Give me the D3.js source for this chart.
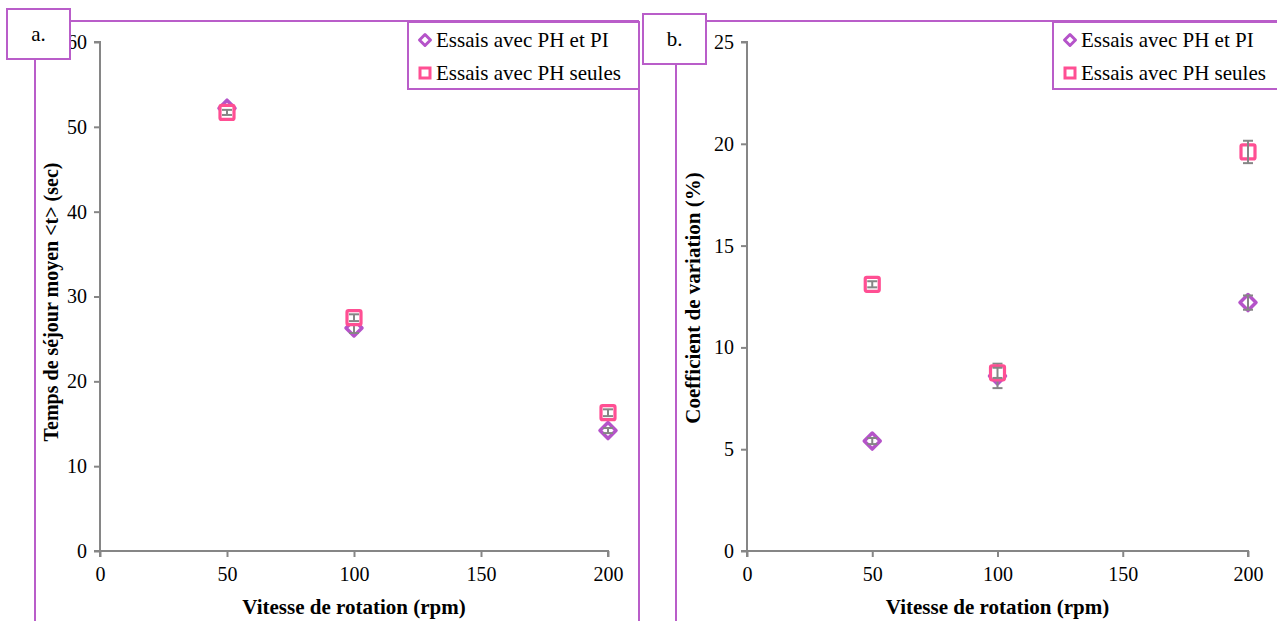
<!DOCTYPE html>
<html><head><meta charset="utf-8">
<script src="https://cdn.jsdelivr.net/npm/d3@7"></script>
<style>body{margin:0;background:#fff;} svg text{font-family:"Liberation Serif","Times New Roman","DejaVu Serif",serif !important;}</style>
</head><body>
<svg id="c" width="1277" height="621"></svg>
<script>
const speeds = [50, 100, 200];
const xTicks = [0, 50, 100, 150, 200];
// Panel a: mean residence time (sec)
const tA_PHPI = [52.2, 26.3, 14.2];
const tA_PHPI_err = [0.3, 0.6, 0.3];
const tA_PH = [51.7, 27.5, 16.3];
const tA_PH_err = [0.3, 0.4, 0.4];
const yTicksA = [0, 10, 20, 30, 40, 50, 60];
// Panel b: coefficient of variation (%)
const cvB_PHPI = [5.4, 8.6, 12.2];
const cvB_PHPI_err = [0.15, 0.6, 0.35];
const cvB_PH = [13.1, 8.75, 19.6];
const cvB_PH_err = [0.15, 0.25, 0.55];
const yTicksB = [0, 5, 10, 15, 20, 25];
const seriesNames = ["Essais avec PH et PI", "Essais avec PH seules"];
const labels = ["a.", "b."];
const yTitles = ["Temps de séjour moyen <t> (sec)", "Coefficient de variation (%)"];
const xTitle = "Vitesse de rotation (rpm)";

const PURPLE = "#B553C9", PINK = "#FF4F93", FRAME = "#B95DC9", AXIS = "#868686";
const FONT = "'Liberation Serif','Times New Roman','DejaVu Serif',serif";
const svg = d3.select("#c");

function panel(cfg) {
  const g = svg.append("g");
  // frame
  g.append("line").attr("x1", cfg.box.x1).attr("x2", cfg.frameRight).attr("y1", 21).attr("y2", 21).attr("stroke", FRAME).attr("stroke-width", 2);
  g.append("line").attr("x1", cfg.frameLeft).attr("x2", cfg.frameLeft).attr("y1", cfg.box.y1).attr("y2", 621).attr("stroke", FRAME).attr("stroke-width", 2);
  if (cfg.drawRight) g.append("line").attr("x1", cfg.frameRight).attr("x2", cfg.frameRight).attr("y1", 21).attr("y2", 621).attr("stroke", FRAME).attr("stroke-width", 2);

  const x = d3.scaleLinear().domain([0, 200]).range([cfg.x0, cfg.x1]);
  const y = d3.scaleLinear().domain([0, cfg.yMax]).range([551, 42]);

  const ya = g.append("g").attr("transform", `translate(${cfg.x0},0)`)
    .call(d3.axisLeft(y).tickValues(cfg.yTicks).tickSize(6).tickPadding(7).tickFormat(d3.format("d")));
  const xa = g.append("g").attr("transform", `translate(0,551)`)
    .call(d3.axisBottom(x).tickValues(xTicks).tickSize(6).tickPadding(10).tickFormat(d3.format("d")));
  [ya, xa].forEach(a => {
    a.attr("font-family", null).attr("font-size", null);
    a.select(".domain").attr("stroke", AXIS).attr("stroke-width", 2);
    a.selectAll(".tick line").attr("stroke", AXIS).attr("stroke-width", 2);
    a.selectAll("text").attr("fill", "#000").style("font-size", "20px").style("font-family", FONT);
  });
  ya.select(".domain").attr("d", `M-6,42H0V551H-6`);
  xa.select(".domain").attr("d", `M${cfg.x0},6V0H${cfg.x1}V6`);

  // titles
  g.append("text").attr("x", (cfg.x0 + cfg.x1) / 2).attr("y", 614).attr("text-anchor", "middle")
    .style("font-weight", "bold").style("font-size", "21px").style("font-family", FONT).text(xTitle);
  g.append("text").attr("transform", `translate(${cfg.yTitleX},${cfg.yTitleY}) rotate(-90)`).attr("text-anchor", "middle")
    .style("font-weight", "bold").style("font-size", cfg.yTitleSize).style("font-family", FONT).text(cfg.yTitle);

  // series
  const series = [
    {v: cfg.s1, e: cfg.e1, shape: "diamond", color: PURPLE},
    {v: cfg.s2, e: cfg.e2, shape: "square", color: PINK}
  ];
  series.forEach(s => {
    const pts = speeds.map((sp, i) => ({x: x(sp), y: y(s.v[i]), lo: y(s.v[i] - s.e[i]), hi: y(s.v[i] + s.e[i])}));
    const m = g.append("g");
    pts.forEach(p => {
      if (s.shape === "diamond") {
        m.append("path").attr("d", `M${p.x},${p.y - 8}L${p.x + 8},${p.y}L${p.x},${p.y + 8}L${p.x - 8},${p.y}Z`)
          .attr("fill", "#fff").attr("stroke", s.color).attr("stroke-width", 3.5).attr("stroke-linejoin", "round");
      } else {
        m.append("rect").attr("x", p.x - 7).attr("y", p.y - 7).attr("width", 14).attr("height", 14).attr("rx", 1.5)
          .attr("fill", "#fff").attr("stroke", s.color).attr("stroke-width", 3.2);
      }
    });
    const eb = g.append("g");
    pts.forEach(p => {
      eb.append("line").attr("x1", p.x).attr("x2", p.x).attr("y1", p.lo).attr("y2", p.hi).attr("stroke", AXIS).attr("stroke-width", 2);
      [p.lo, p.hi].forEach(yy => eb.append("line").attr("x1", p.x - 5).attr("x2", p.x + 5).attr("y1", yy).attr("y2", yy).attr("stroke", AXIS).attr("stroke-width", 2));
    });
  });

  // legend
  const L = cfg.legend;
  g.append("rect").attr("x", L.x).attr("y", 22).attr("width", L.w).attr("height", 67).attr("fill", "#fff").attr("stroke", FRAME).attr("stroke-width", 2);
  seriesNames.forEach((n, i) => {
    const cy = 40 + i * 33, cx = L.x + 17;
    if (i === 0) g.append("path").attr("d", `M${cx},${cy - 5.5}L${cx + 5.5},${cy}L${cx},${cy + 5.5}L${cx - 5.5},${cy}Z`).attr("fill", "#fff").attr("stroke", PURPLE).attr("stroke-width", 3).attr("stroke-linejoin", "round");
    else g.append("rect").attr("x", cx - 5).attr("y", cy - 5).attr("width", 10).attr("height", 10).attr("fill", "#fff").attr("stroke", PINK).attr("stroke-width", 3);
    g.append("text").attr("x", cx + 11).attr("y", cy + 7).style("font-size", "21px").style("font-family", FONT).text(n);
  });

  // label box
  const B = cfg.box;
  g.append("rect").attr("x", B.x0).attr("y", B.y0).attr("width", B.x1 - B.x0).attr("height", B.y1 - B.y0).attr("fill", "#fff").attr("stroke", FRAME).attr("stroke-width", 2);
  g.append("text").attr("x", (B.x0 + B.x1) / 2).attr("y", (B.y0 + B.y1) / 2 + 7).attr("text-anchor", "middle").style("font-size", "21px").style("font-family", FONT).text(cfg.label);
}

panel({x0: 100, x1: 608, yMax: 60, yTicks: yTicksA, s1: tA_PHPI, e1: tA_PHPI_err, s2: tA_PH, e2: tA_PH_err,
  box: {x0: 7, x1: 70, y0: 9, y1: 59}, frameLeft: 35, frameRight: 639, drawRight: true,
  legend: {x: 408, w: 231}, label: labels[0], yTitle: yTitles[0], yTitleX: 58, yTitleY: 302, yTitleSize: "20px"});
panel({x0: 747, x1: 1248, yMax: 25, yTicks: yTicksB, s1: cvB_PHPI, e1: cvB_PHPI_err, s2: cvB_PH, e2: cvB_PH_err,
  box: {x0: 643, x1: 706, y0: 14, y1: 64}, frameLeft: 676, frameRight: 1290, drawRight: false,
  legend: {x: 1053, w: 230}, label: labels[1], yTitle: yTitles[1], yTitleX: 700, yTitleY: 298, yTitleSize: "21px"});
</script>
</body></html>
